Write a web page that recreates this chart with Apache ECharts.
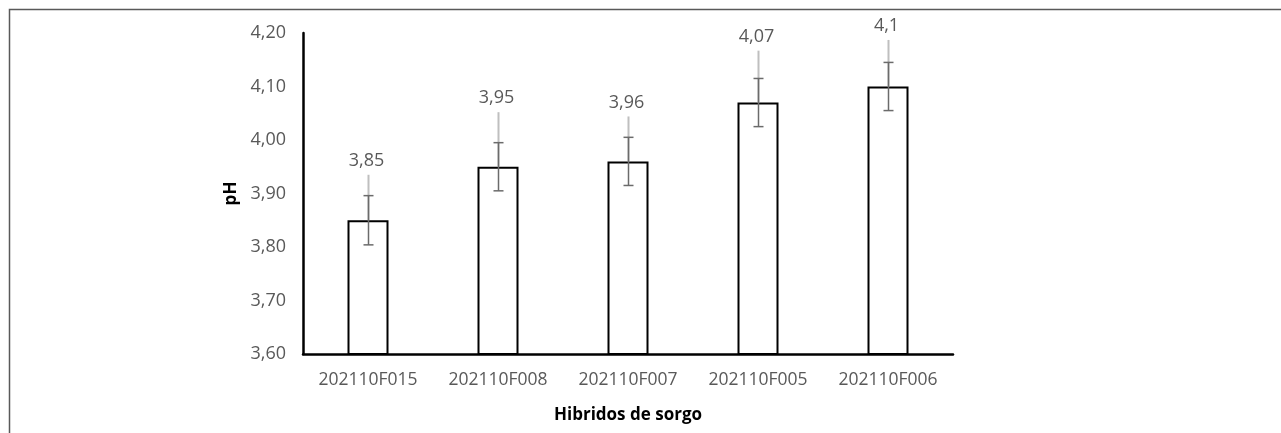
<!DOCTYPE html>
<html>
<head>
<meta charset="utf-8">
<script src="https://cdn.jsdelivr.net/npm/echarts@6/dist/echarts.min.js"></script>
<style>
  html, body { margin: 0; padding: 0; background: #ffffff; }
  #chart { width: 1281px; height: 433px; }
</style>
</head>
<body>
<div id="chart"></div>
<script>
// Sorghum hybrids and their mean silage pH
const categories = ['202110F015', '202110F008', '202110F007', '202110F005', '202110F006'];
const phValues = [3.85, 3.95, 3.96, 4.07, 4.1];
// standard deviation (capped dark bar, drawn both ways)
const phDeviation = [0.046, 0.045, 0.045, 0.045, 0.045];
// upper spread (light uncapped line, drawn upwards only)
const phUpperSpread = [0.085, 0.102, 0.084, 0.097, 0.087];
const yTicks = { min: 3.6, max: 4.2, interval: 0.1 };

const fmtComma = v => String(v).replace('.', ',');

const chart = echarts.init(document.getElementById('chart'), null, { renderer: 'canvas' });

const errorData = phValues.map((v, i) => [i, v, phDeviation[i], phUpperSpread[i]]);

chart.setOption({
  animation: false,
  backgroundColor: '#ffffff',
  textStyle: { fontFamily: 'Open Sans' },
  graphic: [
    // outer chart-area frame (left and top edges)
    {
      type: 'polyline',
      shape: { points: [[9.5, 433], [9.5, 9.5], [1281, 9.5]] },
      style: { stroke: '#595959', lineWidth: 1.5, fill: null },
      silent: true
    }
  ],
  grid: { left: 303, right: 328, top: 33, bottom: 79 },
  xAxis: {
    type: 'category',
    data: categories,
    axisLine: { show: true, lineStyle: { color: '#000000', width: 2.5 } },
    axisTick: { show: false },
    axisLabel: {
      color: '#595959', fontSize: 17.5, margin: 17, fontFamily: 'Open Sans',
      interval: 0, hideOverlap: false
    },
    name: 'Hibridos de sorgo',
    nameLocation: 'middle',
    nameGap: 53,
    nameTextStyle: { color: '#000000', fontSize: 17, fontWeight: 'bold', fontFamily: 'Open Sans' }
  },
  yAxis: {
    type: 'value',
    min: yTicks.min,
    max: yTicks.max,
    interval: yTicks.interval,
    axisLine: { show: true, lineStyle: { color: '#000000', width: 2.5 } },
    axisTick: { show: false },
    splitLine: { show: false },
    axisLabel: {
      color: '#595959', fontSize: 18, margin: 17, fontFamily: 'Open Sans',
      formatter: v => v.toFixed(2).replace('.', ',')
    },
    name: 'pH',
    nameLocation: 'middle',
    nameGap: 62,
    nameRotate: 90,
    nameTextStyle: { color: '#000000', fontSize: 17, fontWeight: 'bold', fontFamily: 'Open Sans' }
  },
  series: [
    {
      type: 'bar',
      data: phValues,
      barWidth: 41,
      itemStyle: { color: '#ffffff', borderColor: '#000000', borderWidth: 2 },
      z: 2
    },
    {
      type: 'custom',
      data: errorData,
      z: 5,
      renderItem: function (params, api) {
        const i = api.value(0);
        const v = api.value(1);
        const sd = api.value(2);
        const up = api.value(3);
        const base = api.coord([i, v]);
        const hi = api.coord([i, v + sd]);
        const lo = api.coord([i, v - sd]);
        const top = api.coord([i, v + up]);
        const x = Math.round(base[0]) + 0.5;
        const cap = 5;
        return {
          type: 'group',
          children: [
            {
              type: 'line',
              shape: { x1: x, y1: base[1], x2: x, y2: top[1] },
              style: { stroke: '#bfbfbf', lineWidth: 2 }
            },
            {
              type: 'line',
              shape: { x1: x, y1: lo[1], x2: x, y2: hi[1] },
              style: { stroke: '#6b6b6b', lineWidth: 1.5 }
            },
            {
              type: 'line',
              shape: { x1: x - cap, y1: hi[1], x2: x + cap, y2: hi[1] },
              style: { stroke: '#6b6b6b', lineWidth: 1.5 }
            },
            {
              type: 'line',
              shape: { x1: x - cap, y1: lo[1], x2: x + cap, y2: lo[1] },
              style: { stroke: '#6b6b6b', lineWidth: 1.5 }
            },
            {
              type: 'text',
              style: {
                x: x - 2,
                y: top[1] - 5,
                text: fmtComma(v),
                fill: '#595959',
                font: '18px "Open Sans"',
                textAlign: 'center',
                textVerticalAlign: 'bottom'
              }
            }
          ]
        };
      }
    }
  ]
});
</script>
</body>
</html>
